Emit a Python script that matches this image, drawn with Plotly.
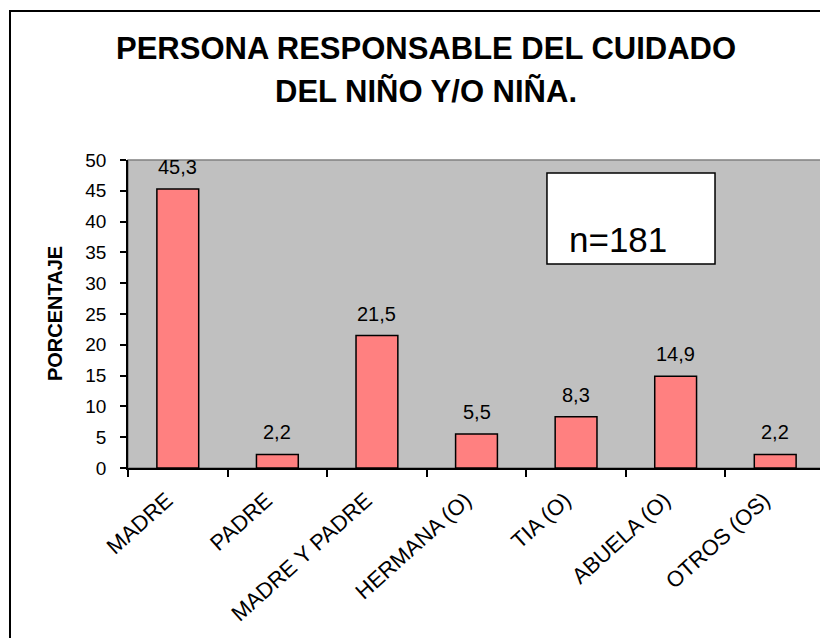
import plotly.graph_objects as go

categories = ["MADRE", "PADRE", "MADRE Y PADRE", "HERMANA (O)", "TIA (O)", "ABUELA (O)", "OTROS (OS)"]
values = [45.3, 2.2, 21.5, 5.5, 8.3, 14.9, 2.2]
value_labels = ["45,3", "2,2", "21,5", "5,5", "8,3", "14,9", "2,2"]
y_ticks = [0, 5, 10, 15, 20, 25, 30, 35, 40, 45, 50]
title_lines = ["PERSONA RESPONSABLE DEL CUIDADO", "DEL NIÑO Y/O NIÑA."]
y_title = "PORCENTAJE"
n_label = "n=181"

FONT = "Liberation Sans, Arial, sans-serif"

fig = go.Figure()
fig.add_trace(go.Bar(
    x=categories, y=values,
    marker=dict(color="#FF8080", line=dict(color="black", width=1.5)),
    hoverinfo="x+y",
))

annotations = []
for c, v, t in zip(categories, values, value_labels):
    annotations.append(dict(x=c, y=v, xref="x", yref="y", text=t, showarrow=False,
                            yanchor="bottom", yshift=9,
                            font=dict(family=FONT, size=20, color="black")))

annotations.append(dict(x=0.4275, y=1.3604, xref="paper", yref="paper", text=title_lines[0],
                        showarrow=False, xanchor="center", yanchor="middle",
                        font=dict(family=FONT, size=31, color="black", weight="bold")))
annotations.append(dict(x=0.4275, y=1.224, xref="paper", yref="paper", text=title_lines[1],
                        showarrow=False, xanchor="center", yanchor="middle",
                        font=dict(family=FONT, size=31, color="black", weight="bold")))
annotations.append(dict(x=-0.1047, y=0.5, xref="paper", yref="paper", text=y_title,
                        showarrow=False, xanchor="center", yanchor="middle", textangle=-90,
                        font=dict(family=FONT, size=20, color="black", weight="bold")))
annotations.append(dict(x=0.7023, y=0.7403, xref="paper", yref="paper", text=n_label,
                        showarrow=False, xanchor="center", yanchor="middle",
                        font=dict(family=FONT, size=35, color="black")))

shapes = [
    # plot area border (gray)
    dict(type="rect", xref="paper", yref="paper", x0=0, x1=1, y0=0, y1=1,
         line=dict(color="#808080", width=1.5), fillcolor="rgba(0,0,0,0)", layer="below"),
    # n box
    dict(type="rect", xref="paper", yref="paper", x0=0.6011, x1=0.8422, y0=0.6623, y1=0.9578,
         line=dict(color="black", width=1.5), fillcolor="white", layer="above"),
    # outer chart border
    dict(type="rect", xref="paper", yref="paper", x0=-0.1693, x1=1.2, y0=-1.0, y1=1.4838,
         line=dict(color="black", width=2), fillcolor="rgba(0,0,0,0)", layer="above"),
]

fig.update_layout(
    width=820, height=630,
    margin=dict(l=120, r=3, t=152, b=170),
    paper_bgcolor="white", plot_bgcolor="#C0C0C0",
    bargap=0.58, showlegend=False,
    font=dict(family=FONT, color="black"),
    annotations=annotations, shapes=shapes,
    xaxis=dict(
        type="category", tickson="boundaries", ticks="outside", ticklen=7, tickwidth=1.5,
        tickcolor="black", showline=True, linecolor="black", linewidth=1.5,
        tickangle=-42, tickfont=dict(family=FONT, size=22, color="black"),
        showgrid=False, zeroline=False, ticklabelstandoff=9, ticklabelshift=-11,
    ),
    yaxis=dict(
        range=[0, 50], tickvals=y_ticks, ticks="outside", ticklen=6, tickwidth=1.5,
        tickcolor="black", showline=True, linecolor="black", linewidth=1.5,
        tickfont=dict(family=FONT, size=19, color="black"),
        showgrid=False, zeroline=False, ticklabelstandoff=10,
    ),
)

fig.write_html("out.html")
